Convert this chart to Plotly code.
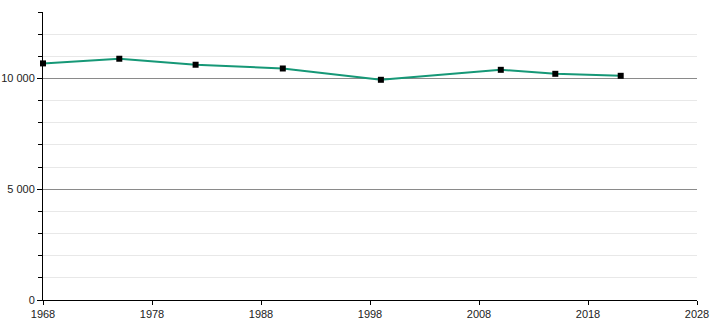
import plotly.graph_objects as go

years = [1968, 1975, 1982, 1990, 1999, 2010, 2015, 2021]
population = [10680, 10890, 10620, 10450, 9940, 10390, 10210, 10120]

fig = go.Figure()
fig.add_trace(go.Scatter(
    x=years, y=population, mode="lines+markers",
    line=dict(color="#169877", width=2),
    marker=dict(symbol="square", size=6, color="#000000"),
    hoverinfo="x+y", showlegend=False, cliponaxis=False,
))

fig.update_layout(
    width=710, height=320,
    margin=dict(l=43, r=13, t=12, b=20, autoexpand=False),
    plot_bgcolor="white", paper_bgcolor="white",
    separators=", ",
    font=dict(family="Liberation Sans, Arial, sans-serif", size=11, color="#222"),
    xaxis=dict(
        range=[1968, 2028], tickmode="linear", tick0=1968, dtick=10,
        tickformat="d", showgrid=False, zeroline=False, automargin=False,
        showline=True, linecolor="black", linewidth=1,
        ticks="outside", ticklen=4, tickcolor="black",
    ),
    yaxis=dict(
        range=[0, 13000], tickvals=[0, 5000, 10000], tickformat=",d",
        showgrid=True, gridcolor="#8a8a8a", gridwidth=1, zeroline=False,
        automargin=False,
        showline=True, linecolor="black", linewidth=1,
        ticks="outside", ticklen=5, tickcolor="black",
        minor=dict(dtick=1000, tick0=0, showgrid=True, gridcolor="#e8e8e8",
                   ticks="outside", ticklen=4, tickcolor="black"),
    ),
)

fig.write_html("out.html")
